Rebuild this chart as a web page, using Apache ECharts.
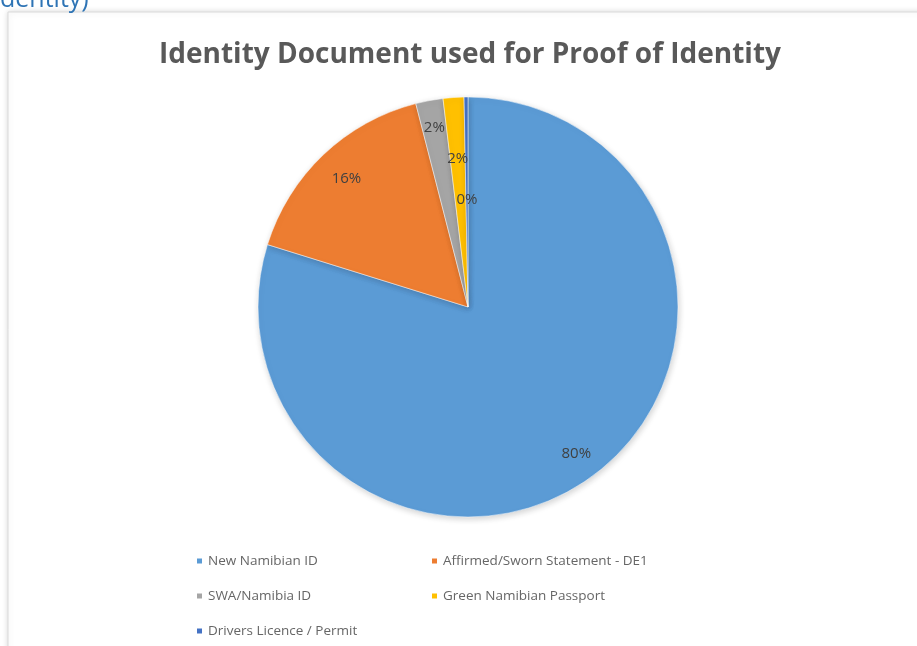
<!DOCTYPE html>
<html>
<head>
<meta charset="utf-8">
<script src="https://cdn.jsdelivr.net/npm/echarts@6/dist/echarts.min.js"></script>
<style>
  html, body { margin: 0; padding: 0; background: #fff; }
  #chart { width: 917px; height: 646px; }
</style>
</head>
<body>
<div id="chart"></div>
<script>
const categories = [
  'New Namibian ID',
  'Affirmed/Sworn Statement - DE1',
  'SWA/Namibia ID',
  'Green Namibian Passport',
  'Drivers Licence / Permit'
]
const shares = [79.8, 16.2, 2.1, 1.6, 0.3]
const colors = ['#5B9BD5', '#ED7D31', '#A5A5A5', '#FFC000', '#4472C4']

// where Excel put each percentage label, as a fraction of the radius
const labelRadius = [0.87, 0.84, 0.87, 0.71, 0.51]

const CX = 468, CY = 307, R = 210
const chart = echarts.init(document.getElementById('chart'))

const legendText = { color: '#666666', fontSize: 13.5, fontFamily: 'Open Sans' }

chart.setOption({
  title: {
    text: 'Identity Document used for Proof of Identity',
    left: 154,
    top: 36,
    textStyle: { color: '#595959', fontSize: 28, fontWeight: 'bold', fontFamily: 'Open Sans' }
  },
  graphic: [
    {
      type: 'rect',
      shape: { x: 8, y: 12, width: 930, height: 660 },
      style: { fill: '#fff', stroke: '#d9d9d9', lineWidth: 1, shadowBlur: 6, shadowColor: 'rgba(0,0,0,0.15)' },
      z: -10
    },
    {
      type: 'text',
      left: 0,
      top: -13,
      style: { text: 'dentity)', fill: '#2E74B5', fontSize: 25, fontFamily: 'Open Sans' },
      z: 10
    }
  ],
  legend: [
    {
      data: [categories[0], categories[2], categories[4]],
      orient: 'vertical',
      left: 190,
      top: 549,
      itemWidth: 7,
      itemHeight: 7,
      itemGap: 21,
      icon: 'rect',
      textStyle: legendText
    },
    {
      data: [categories[1], categories[3]],
      orient: 'vertical',
      left: 425,
      top: 549,
      itemWidth: 7,
      itemHeight: 7,
      itemGap: 21,
      icon: 'rect',
      textStyle: legendText
    }
  ],
  series: [
    {
      type: 'pie',
      center: [CX, CY],
      radius: R,
      startAngle: 90,
      clockwise: true,
      avoidLabelOverlap: false,
      itemStyle: {
        borderColor: '#fff',
        borderWidth: 0.5,
        shadowBlur: 6,
        shadowColor: 'rgba(0,0,0,0.18)',
        shadowOffsetX: 1,
        shadowOffsetY: 2
      },
      label: {
        show: true,
        position: 'inside',
        formatter: p => Math.round(p.value) + '%',
        color: '#404040',
        fontSize: 15,
        fontFamily: 'Open Sans'
      },
      labelLine: { show: false },
      labelLayout: params => {
        const r = params.labelRect
        const lx = r.x + r.width / 2 - CX
        const ly = r.y + r.height / 2 - CY
        const d = Math.hypot(lx, ly) || 1
        const target = labelRadius[params.dataIndex] * R
        return { dx: lx / d * target - lx, dy: ly / d * target - ly }
      },
      emphasis: { disabled: true },
      data: categories.map((name, i) => ({
        name,
        value: shares[i],
        itemStyle: { color: colors[i] }
      }))
    }
  ]
})
</script>
</body>
</html>
